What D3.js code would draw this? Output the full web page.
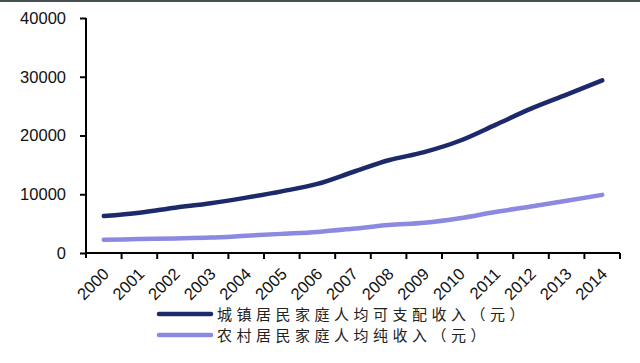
<!DOCTYPE html>
<html>
<head>
<meta charset="utf-8">
<script src="https://cdn.jsdelivr.net/npm/d3@7"></script>
<style>
body{margin:0;background:#fff}
svg{display:block}
</style>
</head>
<body>
<div id="chart"></div>
<script>
var years = ["2000","2001","2002","2003","2004","2005","2006","2007","2008","2009","2010","2011","2012","2013","2014"]
var urban = [6280,6860,7703,8472,9422,10493,11759,13786,15781,17175,19109,21810,24565,26955,29381]
var rural = [2253,2366,2476,2622,2936,3255,3587,4140,4761,5153,5919,6977,7917,8896,9892]
var yTicks = [0,10000,20000,30000,40000]
var seriesNames = ["城镇居民家庭人均可支配收入（元）","农村居民家庭人均纯收入（元）"]
var seriesColors = ["#1c2a6c","#8b89e0"]

var w = 640, h = 363
var pLeft = 86, pRight = 620, pTop = 18, pBottom = 253

var svg = d3.select("#chart").append("svg")
    .attr("width",w)
    .attr("height",h)

// dark strip on the top edge of the picture
svg.append("rect").attr("x",0).attr("y",0).attr("width",w).attr("height",2).attr("fill","#43504f")

var x = d3.scaleBand().domain(years).range([pLeft,pRight])
var y = d3.scaleLinear().domain([0,40000]).range([pBottom,pTop])

// y axis
var yAxis = svg.append("g")
    .attr("transform","translate("+pLeft+",0)")
    .call(d3.axisLeft(y).tickValues(yTicks).tickSize(6).tickPadding(14).tickFormat(d3.format("d")))
yAxis.select(".domain").attr("d","M0,"+pTop+"V"+(pBottom+5)).attr("stroke","#000").attr("stroke-width",2)
yAxis.selectAll(".tick line").attr("stroke","#000").attr("stroke-width",2)
yAxis.selectAll(".tick text").attr("font-family","Liberation Sans, Arial, sans-serif").attr("font-size",16.5).attr("fill","#111")

// x axis, ticks at band edges
var xAxis = svg.append("g").attr("transform","translate(0,"+pBottom+")")
xAxis.append("path").attr("d","M"+pLeft+",0H"+pRight).attr("stroke","#000").attr("stroke-width",2)
var edges = years.map(function(d){ return x(d)+x.bandwidth() })
xAxis.selectAll("line.tk").data(edges).enter().append("line")
    .attr("class","tk")
    .attr("x1",function(d){ return d }).attr("x2",function(d){ return d })
    .attr("y1",0).attr("y2",6)
    .attr("stroke","#000").attr("stroke-width",2)
xAxis.selectAll("text.lbl").data(years).enter().append("text")
    .attr("class","lbl")
    .attr("transform",function(d){ return "translate("+(x(d)+x.bandwidth()/2+2)+",18) rotate(-45)" })
    .attr("text-anchor","end")
    .attr("dy","0.35em")
    .attr("font-family","Liberation Sans, Arial, sans-serif")
    .attr("font-size",16.5)
    .attr("fill","#111")
    .text(function(d){ return d })

// lines
var line = d3.line()
    .x(function(d,i){ return x(years[i])+x.bandwidth()/2 })
    .y(function(d){ return y(d) })
    .curve(d3.curveMonotoneX)

;[urban,rural].forEach(function(s,k){
    svg.append("path")
        .datum(s)
        .attr("d",line)
        .attr("fill","none")
        .attr("stroke",seriesColors[k])
        .attr("stroke-width",4.5)
        .attr("stroke-linecap","round")
})

// legend
var legend = svg.append("g")
seriesNames.forEach(function(name,k){
    var ly = 314+k*21
    legend.append("line")
        .attr("x1",159).attr("x2",211).attr("y1",ly).attr("y2",ly)
        .attr("stroke",seriesColors[k]).attr("stroke-width",4.5).attr("stroke-linecap","round")
    legend.append("text")
        .attr("x",217).attr("y",ly+5.5)
        .attr("font-family","Noto Sans CJK SC, sans-serif")
        .attr("font-size",15)
        .attr("letter-spacing",4.5)
        .attr("fill","#222")
        .text(name)
})
</script>
</body>
</html>
